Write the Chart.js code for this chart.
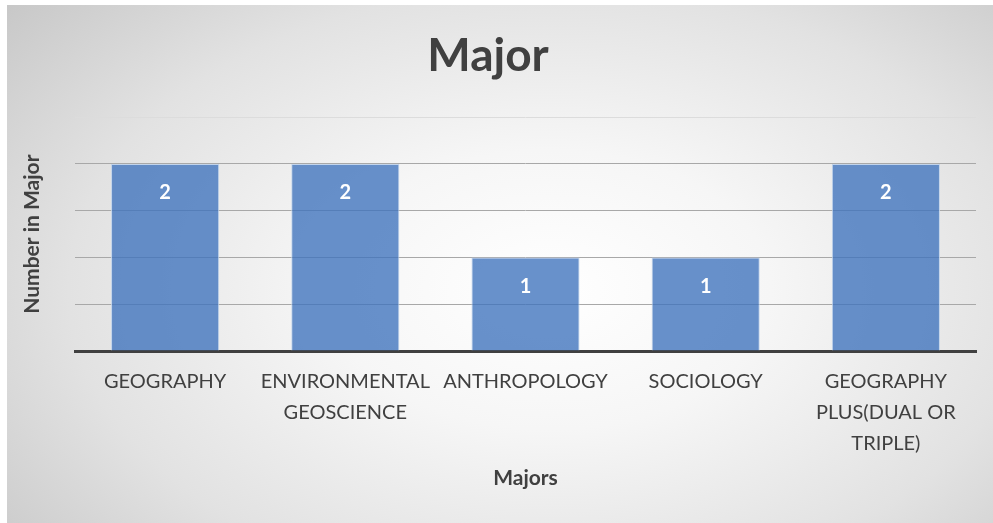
<!DOCTYPE html>
<html>
<head>
<meta charset="utf-8">
<script src="https://cdn.jsdelivr.net/npm/chart.js@4"></script>
<style>
  html, body { margin: 0; padding: 0; background: #fff; }
  #wrap {
    position: absolute; left: 7px; top: 5px; width: 986px; height: 518px;
    background: radial-gradient(ellipse 75% 90% at 55% 55%, #ffffff 0%, #f6f6f6 30%, #e2e2e2 65%, #c4c4c4 100%);
  }
  #chart { position: absolute; left: -7px; top: -5px; }
</style>
</head>
<body>
<div id="wrap"><canvas id="chart" width="993" height="523"></canvas></div>
<script>
const majors = [
  "GEOGRAPHY",
  ["ENVIRONMENTAL", "GEOSCIENCE"],
  "ANTHROPOLOGY",
  "SOCIOLOGY",
  ["GEOGRAPHY", "PLUS(DUAL OR", "TRIPLE)"]
];
const counts = [2, 2, 1, 1, 2];
const yMax = 2.5;
const yStep = 0.5;

const fontFam = "Lato, 'Open Sans', sans-serif";

// white bold numbers just under the top of each bar
const barLabels = {
  id: "barLabels",
  afterDatasetsDraw(chart) {
    const ctx = chart.ctx;
    const meta = chart.getDatasetMeta(0);
    ctx.save();
    ctx.fillStyle = "#ffffff";
    ctx.font = "bold 20px " + fontFam;
    ctx.textAlign = "center";
    ctx.textBaseline = "middle";
    meta.data.forEach((bar, i) => {
      ctx.fillText(String(counts[i]), bar.x, bar.y + 29);
    });
    ctx.restore();
  }
};

new Chart(document.getElementById("chart"), {
  type: "bar",
  data: {
    labels: majors,
    datasets: [{
      label: "Number in Major",
      data: counts,
      backgroundColor: "rgba(62,114,188,0.78)",
      borderColor: "rgba(190,210,235,0.9)",
      borderWidth: 1,
      categoryPercentage: 0.6,
      barPercentage: 1
    }]
  },
  options: {
    responsive: false,
    animation: false,
    layout: { padding: { top: 0, left: 0, right: 17, bottom: 0 } },
    plugins: {
      legend: { display: false },
      tooltip: { enabled: false },
      title: {
        display: true,
        text: "Major",
        color: "#404040",
        font: { family: fontFam, size: 46, weight: "bold", lineHeight: 1.2 },
        padding: { top: 29, bottom: 33 }
      }
    },
    scales: {
      x: {
        grid: { display: false, drawTicks: false },
        border: { display: true, color: "#404040", width: 3 },
        ticks: {
          color: "#404040",
          maxRotation: 0,
          autoSkip: false,
          padding: 15,
          font: { family: fontFam, size: 20, lineHeight: 1.55 }
        },
        title: {
          display: true,
          text: "Majors",
          color: "#404040",
          font: { family: fontFam, size: 21, weight: "bold", lineHeight: 1.2 },
          padding: { bottom: 32 }
        },
        afterFit(scale) { scale.height = 172; }
      },
      y: {
        min: 0,
        max: yMax,
        ticks: { display: false, stepSize: yStep },
        grid: {
          drawTicks: false,
          color: ctx => ctx.tick && ctx.tick.value === yMax ? "#dcdcdc" : "#a8a8a8",
          lineWidth: 1
        },
        border: { display: false },
        title: {
          display: true,
          text: "Number in Major",
          color: "#404040",
          font: { family: fontFam, size: 21, weight: "bold", lineHeight: 1.2 },
          padding: { top: 20 }
        },
        afterFit(scale) { scale.width = 75; }
      }
    }
  },
  plugins: [barLabels]
});
</script>
</body>
</html>
